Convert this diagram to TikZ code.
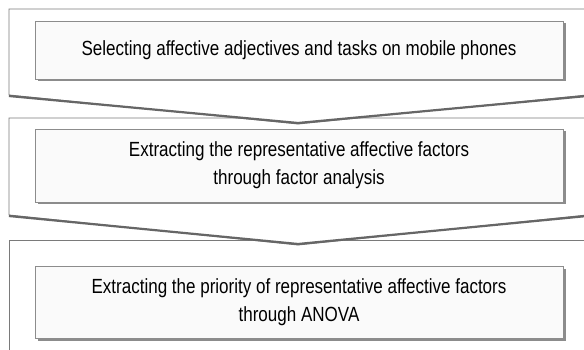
\documentclass[tikz,border=0pt]{standalone}
\usepackage{fontspec}
\setmainfont[FakeStretch=0.83]{Liberation Sans}
\begin{document}
\begin{tikzpicture}[x=1pt,y=-1pt,
  outer/.style={fill=white,draw=black!52,line width=0.9pt,line join=miter},
  lowedge/.style={draw=black!60,line width=2.2pt},
  stepbox/.style={draw=black!45,line width=0.7pt,fill=black!2,minimum width=528pt,
    align=center,inner sep=0pt,font=\fontsize{20.5}{28}\selectfont},
  boxshade/.style={fill=black!45}]
\useasboundingbox (0,0) rectangle (584,350);
\fill[white] (0,0) rectangle (584,350);
\clip (0,0) rectangle (584,350);
% stage 3
\path[outer] (9,240) -- (587,240) -- (587,362) -- (9,362) -- cycle;
\fill[boxshade] (37.5,268.5) rectangle (565.5,340.5);
\node[stepbox,minimum height=72pt] (s3) at (299,302)
  {Extracting the priority of representative affective factors\\through ANOVA};
% stage 2
\coordinate (t2) at (298,245);
\path[outer] (9,118) -- (587,118) -- (587,215) -- (t2) -- (9,215) -- cycle;
\draw[lowedge] (9,216) -- ([yshift=1pt]t2) -- (587,216);
\fill[boxshade] (37.5,131.5) rectangle (565.5,204.5);
\node[stepbox,minimum height=73pt] (s2) at (299,165.5)
  {Extracting the representative affective factors\\through factor analysis};
% stage 1
\coordinate (t1) at (298,124);
\path[outer] (9,9) -- (587,9) -- (587,95) -- (t1) -- (9,95) -- cycle;
\draw[lowedge] (9,96) -- ([yshift=1pt]t1) -- (587,96);
\fill[boxshade] (37.5,23.5) rectangle (565.5,81.5);
\node[stepbox,minimum height=58pt] (s1) at (299,50)
  {Selecting affective adjectives and tasks on mobile phones};
\end{tikzpicture}
\end{document}
